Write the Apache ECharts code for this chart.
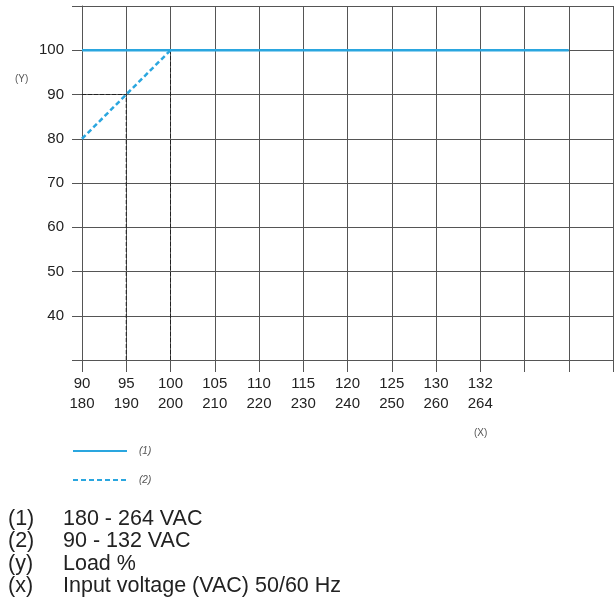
<!DOCTYPE html>
<html>
<head>
<meta charset="utf-8">
<script src="https://cdn.jsdelivr.net/npm/echarts@6/dist/echarts.min.js"></script>
<style>
html,body{margin:0;padding:0;background:#fff;}
#chart{width:616px;height:607px;}
</style>
</head>
<body>
<div id="chart"></div>
<script>
// x axis tick labels (two voltage ranges), plus unlabeled extra grid columns
const xLabelsLow  = ['90','95','100','105','110','115','120','125','130','132'];
const xLabelsHigh = ['180','190','200','210','220','230','240','250','260','264'];
const extraColumns = 3;
// y axis
const yMin = 30, yMax = 110, yStep = 10;
const yHiddenLabels = [30, 110];
// series values per x column
const line1 = [100,100,100,100,100,100,100,100,100,100,100,100,null]; // (1) 180 - 264 VAC
const line2 = [80, 90, 100];                                              // (2) 90 - 132 VAC
// dashed reference lines [columnIndex, value]
const refV95  = [[1, 30], [1, 90]];
const refV100 = [[2, 30], [2, 100]];
const refH90  = [[0, 90], [1, 90]];
// legend / notes
const seriesNames = ['(1)', '(2)'];
const notes = [
  ['(1)', '180 - 264 VAC'],
  ['(2)', '90 - 132 VAC'],
  ['(y)', 'Load %'],
  ['(x)', 'Input voltage (VAC) 50/60 Hz']
];

const categories = xLabelsLow.map((v, i) => v + '\n' + xLabelsHigh[i]);
for (let i = 0; i < extraColumns; i++) categories.push('');

const FONT = 'Liberation Sans, Arial, sans-serif';
const BLUE = '#2aa6df';
const GRIDC = '#555';

const chart = echarts.init(document.getElementById('chart'));

const refStyle = {color: '#222', width: 1, type: [4, 2]};
const refSeries = (d) => ({
  type: 'line', data: d, symbol: 'none', silent: true, z: 3,
  lineStyle: refStyle, clip: false
});

const noteGraphics = [];
notes.forEach((n, i) => {
  const y = 520 + i * 22.5;
  noteGraphics.push({type: 'text', left: 8, top: y - 12,
    style: {text: n[0], font: '21.5px ' + FONT, fill: '#222'}});
  noteGraphics.push({type: 'text', left: 63, top: y - 12,
    style: {text: n[1], font: '21.5px ' + FONT, fill: '#222'}});
});

chart.setOption({
  animation: false,
  backgroundColor: '#fff',
  grid: {left: 82, right: 1, top: 6, bottom: 247, containLabel: false},
  xAxis: {
    type: 'category',
    data: categories,
    boundaryGap: false,
    axisLine: {show: true, lineStyle: {color: GRIDC, width: 1}},
    axisTick: {show: true, length: 12, interval: 0, lineStyle: {color: GRIDC}},
    axisLabel: {interval: 0, margin: 14, fontSize: 15, lineHeight: 20,
      color: '#222', fontFamily: FONT},
    splitLine: {show: true, interval: 0, lineStyle: {color: GRIDC, width: 1}}
  },
  yAxis: {
    type: 'value',
    min: yMin, max: yMax, interval: yStep,
    axisLine: {show: true, lineStyle: {color: GRIDC, width: 1}},
    axisTick: {show: true, length: 10, lineStyle: {color: GRIDC}},
    axisLabel: {margin: 18, fontSize: 15, color: '#222', fontFamily: FONT,
      formatter: v => yHiddenLabels.includes(v) ? '' : String(v)},
    splitLine: {show: true, lineStyle: {color: GRIDC, width: 1}}
  },
  legend: {
    data: seriesNames,
    orient: 'vertical',
    left: 72, top: 446,
    padding: 0,
    itemGap: 19,
    itemWidth: 54, itemHeight: 10,
    itemStyle: {opacity: 0},
    textStyle: {fontSize: 10, fontStyle: 'italic', color: '#555', fontFamily: FONT,
      padding: [0, 0, 0, 7]}
  },
  graphic: [
    {type: 'text', left: 15, top: 74,
      style: {text: '(Y)', font: '10px ' + FONT, fill: '#555'}},
    {type: 'text', left: 474, top: 428,
      style: {text: '(X)', font: '10px ' + FONT, fill: '#555'}}
  ].concat(noteGraphics),
  series: [
    refSeries(refV95),
    refSeries(refV100),
    refSeries(refH90),
    {name: seriesNames[0], type: 'line', data: line1, symbol: 'none', z: 4,
      lineStyle: {color: BLUE, width: 2.5}, itemStyle: {color: BLUE}},
    {name: seriesNames[1], type: 'line', data: line2, symbol: 'none', z: 5,
      lineStyle: {color: BLUE, width: 2.5, type: [5, 3]}, itemStyle: {color: BLUE}}
  ]
});
</script>
</body>
</html>
